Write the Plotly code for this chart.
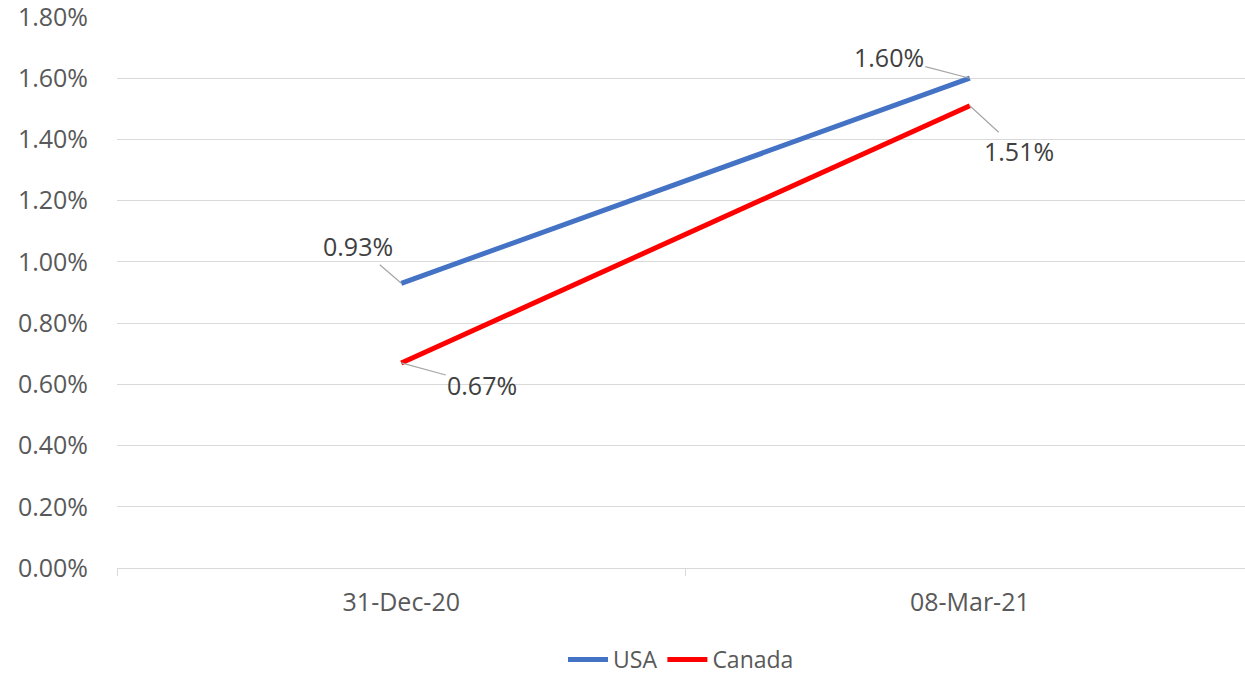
import plotly.graph_objects as go

categories = ["31-Dec-20", "08-Mar-21"]
usa = [0.0093, 0.0160]
canada = [0.0067, 0.0151]
y_ticks = [0, 0.002, 0.004, 0.006, 0.008, 0.010, 0.012, 0.014, 0.016, 0.018]

text_color = "#595959"
font_family = "Open Sans, Noto Sans, sans-serif"

fig = go.Figure()
fig.add_trace(go.Scatter(x=categories, y=usa, mode="lines", name="USA",
                         line=dict(color="#4472C4", width=5)))
fig.add_trace(go.Scatter(x=categories, y=canada, mode="lines", name="Canada",
                         line=dict(color="#FF0000", width=5)))

# data labels with leader lines (offsets in pixels)
label_offsets = {
    ("USA", 0): (-43, -37), ("USA", 1): (-81, -21),
    ("Canada", 0): (81, 22), ("Canada", 1): (49, 45),
}
for name, vals in (("USA", usa), ("Canada", canada)):
    for i, v in enumerate(vals):
        ax, ay = label_offsets[(name, i)]
        fig.add_annotation(x=categories[i], y=v, text=f"{v*100:.2f}%",
                           showarrow=True, arrowhead=0, arrowwidth=1.2,
                           arrowcolor="#a6a6a6", ax=ax, ay=ay, standoff=0,
                           font=dict(size=25, color="#404040", family=font_family))

fig.update_layout(
    width=1245, height=677,
    margin=dict(l=117, r=0, t=17, b=109, autoexpand=False),
    paper_bgcolor="white", plot_bgcolor="white",
    font=dict(family=font_family, color=text_color, size=25),
    showlegend=True,
    legend=dict(orientation="h", x=0.5, xanchor="center", y=-0.166, yanchor="middle",
                font=dict(size=23, color=text_color), itemwidth=40,
                tracegroupgap=0, borderwidth=0),
    xaxis=dict(type="category", range=[-0.5, 1.484], showgrid=False, automargin=False,
               showline=True, linecolor="#d9d9d9", linewidth=1,
               ticks="outside", tickson="boundaries", ticklen=7, tickcolor="#d9d9d9",
               ticklabelstandoff=12,
               tickfont=dict(size=25, color=text_color), zeroline=False),
    yaxis=dict(range=[0, 0.018], tickvals=y_ticks, tickformat=".2%", automargin=False,
               ticklabeloverflow="allow",
               showgrid=True, gridcolor="#d9d9d9", gridwidth=1, zeroline=False,
               showline=False, ticks="", ticklabelstandoff=28,
               tickfont=dict(size=25, color=text_color)),
)

fig.write_html("out.html")
